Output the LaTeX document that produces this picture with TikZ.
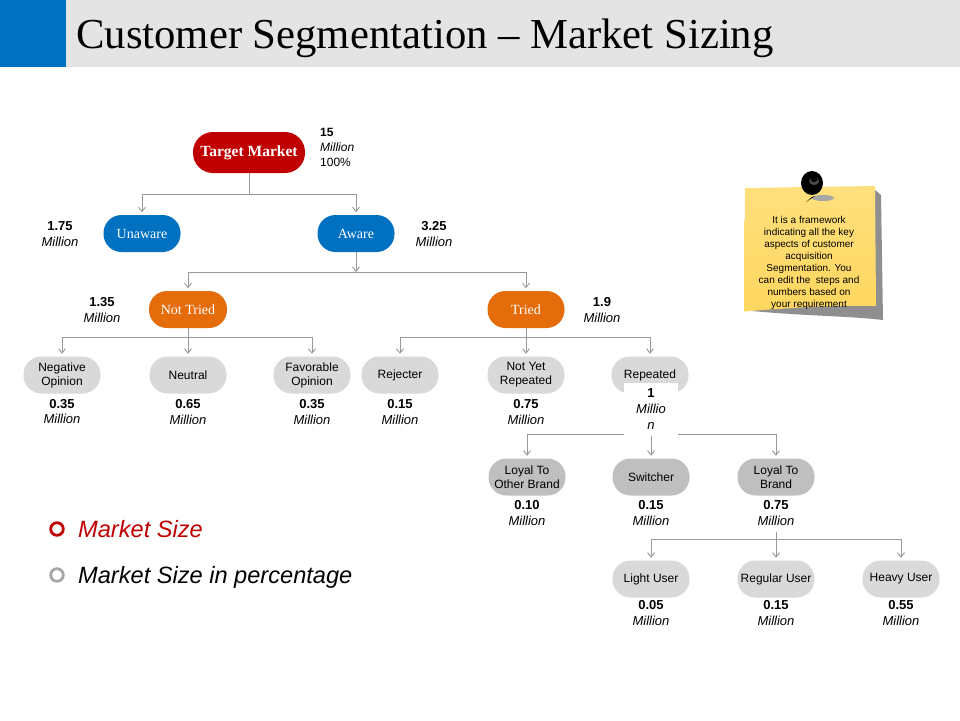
\documentclass[tikz,border=0pt]{standalone}
\usepackage{fontspec}
\setmainfont{Liberation Serif}
\setsansfont{Liberation Sans}
\usetikzlibrary{arrows.meta,calc}
\definecolor{hdrgray}{HTML}{E4E4E4}
\definecolor{hdrblue}{HTML}{0070C0}
\definecolor{tmred}{HTML}{C00000}
\definecolor{awblue}{HTML}{0070C0}
\definecolor{tryorange}{HTML}{E46C0A}
\definecolor{lgray}{HTML}{D9D9D9}
\definecolor{dgray}{HTML}{BFBFBF}
\definecolor{cgray}{HTML}{999999}
\definecolor{noteyel}{HTML}{FFD75E}
\definecolor{noteyeltop}{HTML}{FFE07E}
\definecolor{shadowgray}{HTML}{8F8F8F}
\definecolor{ringgray}{HTML}{A6A6A6}
\begin{document}
\begin{tikzpicture}[x=1pt,y=-1pt,
  pill/.style={rounded corners=18pt, minimum width=77pt, minimum height=37pt, inner sep=0pt, align=center},
  lgnode/.style={pill, fill=lgray, font=\sffamily\fontsize{12}{14}\selectfont},
  dgnode/.style={pill, fill=dgray, font=\sffamily\fontsize{12}{14}\selectfont},
  colnode/.style={pill, text=white, font=\rmfamily\fontsize{14}{16}\selectfont},
  val/.style={align=center, inner sep=0pt, font=\sffamily\fontsize{13}{15.5}\selectfont},
  conn/.style={draw=cgray, line width=0.9pt},
  arr/.style={conn, -{Straight Barb[length=4.5pt,width=7pt]}, shorten >=2.5pt},
]
\useasboundingbox (0,0) rectangle (960,720);
\fill[white] (0,0) rectangle (960,720);
% header
\fill[hdrgray] (0,0) rectangle (960,67);
\fill[hdrblue] (0,0) rectangle (66,67);
\node[anchor=base west, inner sep=0pt, font=\rmfamily\fontsize{42.7}{50}\selectfont] (title) at (76,48) {Customer Segmentation – Market Sizing};

% level 0
\node[pill, fill=tmred, text=white, minimum width=112pt, minimum height=41pt, rounded corners=20pt,
      font=\rmfamily\bfseries\fontsize{15.5}{18}\selectfont] (tm) at (249,152.5) {Target Market};
\node[val, anchor=west, align=left, font=\sffamily\fontsize{12}{14.8}\selectfont] (tmv) at (320,147.5) {\textbf{15}\\\textit{Million}\\100\%};

% level 1
\node[colnode, fill=awblue] (un) at (142,233.5) {Unaware};
\node[colnode, fill=awblue] (aw) at (356,233.5) {Aware};
\node[val] (unv) at (60,234) {\textbf{1.75}\\\textit{Million}};
\node[val] (awv) at (434,234) {\textbf{3.25}\\\textit{Million}};

% level 2
\node[colnode, fill=tryorange, minimum width=78pt] (nt) at (188,309.5) {Not Tried};
\node[colnode, fill=tryorange] (tr) at (526,309.5) {Tried};
\node[val] (ntv) at (102,310) {\textbf{1.35}\\\textit{Million}};
\node[val] (trv) at (602,310) {\textbf{1.9}\\\textit{Million}};

% level 3
\node[lgnode] (neg) at (62,375) {Negative\\Opinion};
\node[lgnode] (neu) at (188,375) {Neutral};
\node[lgnode] (fav) at (312,375) {Favorable\\Opinion};
\node[lgnode] (rej) at (400,375) {Rejecter};
\node[lgnode] (nyr) at (526,375) {Not Yet\\Repeated};
\node[lgnode] (rep) at (650,375) {Repeated};
\node[val] (negv) at (62,411.5) {\textbf{0.35}\\\textit{Million}};
\node[val] (neuv) at (188,412) {\textbf{0.65}\\\textit{Million}};
\node[val] (favv) at (312,412) {\textbf{0.35}\\\textit{Million}};
\node[val] (rejv) at (400,412) {\textbf{0.15}\\\textit{Million}};
\node[val] (nyrv) at (526,412) {\textbf{0.75}\\\textit{Million}};

% level 4
\node[dgnode] (lob) at (527,477) {Loyal To\\Other Brand};
\node[dgnode] (sw) at (651,477) {Switcher};
\node[dgnode] (ltb) at (776,477) {Loyal To\\Brand};
\node[val] (lobv) at (527,513) {\textbf{0.10}\\\textit{Million}};
\node[val] (swv) at (651,513) {\textbf{0.15}\\\textit{Million}};
\node[val] (ltbv) at (776,513) {\textbf{0.75}\\\textit{Million}};

% level 5
\node[lgnode] (lu) at (651,579) {Light User};
\node[lgnode] (ru) at (776,579) {Regular User};
\node[lgnode] (hu) at (901,579) {Heavy User};
\node[val] (luv) at (651,613) {\textbf{0.05}\\\textit{Million}};
\node[val] (ruv) at (776,613) {\textbf{0.15}\\\textit{Million}};
\node[val] (huv) at (901,613) {\textbf{0.55}\\\textit{Million}};

% connectors
\coordinate (j1) at (249,194);
\draw[conn] (tm.south) -- (j1);
\draw[arr] (j1) -| (un.north);
\draw[arr] (j1) -| (aw.north);

\coordinate (j2) at (356,272);
\draw[conn, -{Straight Barb[length=4.5pt,width=7pt]}] (aw.south) -- (j2);
\draw[arr] (j2) -| (nt.north);
\draw[arr] (j2) -| (tr.north);

\coordinate (j3) at (188,337);
\draw[conn] (nt.south) -- (j3);
\draw[arr] (j3) -| (neg.north);
\draw[arr] (j3) -- (neu.north);
\draw[arr] (j3) -| (fav.north);

\coordinate (j4) at (526,337);
\draw[conn] (tr.south) -- (j4);
\draw[arr] (j4) -| (rej.north);
\draw[arr] (j4) -- (nyr.north);
\draw[arr] (j4) -| (rep.north);

\coordinate (j5) at (651,434);
\draw[arr] (j5) -| (lob.north);
\draw[arr] (j5) -- (sw.north);
\draw[arr] (j5) -| (ltb.north);

\coordinate (j6) at (776,539);
\coordinate (ltbs) at (776,532);
\draw[conn] (ltbs) -- (j6);
\draw[arr] (j6) -| (lu.north);
\draw[arr] (j6) -- (ru.north);
\draw[arr] (j6) -| (hu.north);

% value box under Repeated
\node[fill=white, minimum width=54pt, minimum height=53pt, inner sep=0pt, align=center,
      font=\sffamily\fontsize{13}{16}\selectfont] (repv) at (651,409.5) {\textbf{1}\\\textit{Millio}\\\textit{n}};

% sticky note
\fill[shadowgray] (752,311) .. controls (805,316) and (850,316) .. (883,320) -- (881,195) -- (874,189) -- cycle;
\shade[top color=noteyeltop, bottom color=noteyel] (745,188) -- (875,186) -- (876,306) .. controls (835,305) and (785,308) .. (744,311.5) -- cycle;
% pin
\fill[shadowgray!80] (823,198) ellipse (11pt and 3pt);
\fill[black] (812,197) -- (806,202) -- (815,196) -- cycle;
\fill[black] (812,183) ellipse (11pt and 12pt);
\fill[black!70] (814,181) ellipse (5pt and 4pt);
\fill[black] (814,179.5) ellipse (3.5pt and 2.5pt);
\node[align=center, inner sep=0pt, font=\sffamily\fontsize{10}{12}\selectfont] (note) at (809,263)
  {It is a framework\\indicating all the key\\aspects of customer\\acquisition\\Segmentation. You\\can edit the\ \ steps and\\numbers based on\\your requirement};

% legend
\draw[tmred, line width=2.8pt] (57,529) circle (6.3pt);
\node[anchor=base west, inner sep=0pt, text=tmred, font=\sffamily\itshape\fontsize{23.6}{27}\selectfont] (lg1) at (78,537.5) {Market Size};
\draw[ringgray, line width=2.8pt] (57,575) circle (6.3pt);
\node[anchor=base west, inner sep=0pt, font=\sffamily\itshape\fontsize{23.6}{27}\selectfont] (lg2) at (78,583.5) {Market Size in percentage};
\end{tikzpicture}
\end{document}
